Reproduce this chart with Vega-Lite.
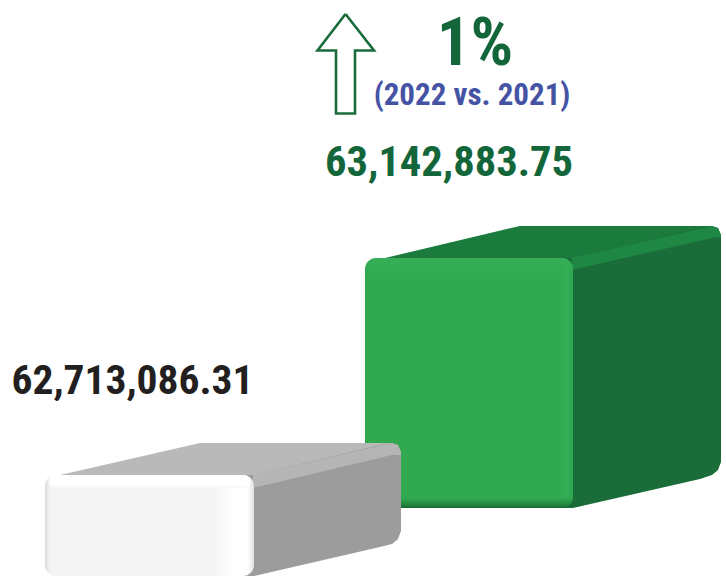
{
"$schema":"https://vega.github.io/schema/vega-lite/v6.json",
"width":726,"height":576,"padding":0,
"autosize":{"type":"fit","contains":"padding"},
"background":"#ffffff",
"config":{"view":{"stroke":null}},
"datasets":{
"fronts":[
{"bar":"2022","value":63142883.75,"left":365,"right":573,"top":258,"bottom":508},
{"bar":"2021","value":62713086.31,"left":45,"right":254,"top":475,"bottom":576}
],
"edges":[
{"bar":"2022","part":"right","left":560,"right":572,"top":266,"bottom":497},
{"bar":"2021","part":"top","left":49,"right":250,"top":475,"bottom":488}
],
"faces":[
{"bar":"2022","face":"green top","u":385,"a":258,"b":258},
{"bar":"2022","face":"green top","u":520,"a":226,"b":258},
{"bar":"2022","face":"green top","u":573,"a":226,"b":258},
{"bar":"2022","face":"green top","u":712,"a":226,"b":230},
{"bar":"2022","face":"green side","u":555,"a":258,"b":508},
{"bar":"2022","face":"green side","u":573,"a":258,"b":508},
{"bar":"2022","face":"green side","u":700,"a":228,"b":479},
{"bar":"2022","face":"green side","u":712,"a":226,"b":475},
{"bar":"2022","face":"green side","u":718,"a":228,"b":470},
{"bar":"2022","face":"green side","u":721,"a":235,"b":462},
{"bar":"2022","face":"green bevel","u":572,"a":258,"b":270},
{"bar":"2022","face":"green bevel","u":712,"a":226,"b":238},
{"bar":"2022","face":"green bevel","u":718,"a":228,"b":237},
{"bar":"2022","face":"green bevel","u":721,"a":235,"b":238},
{"bar":"2021","face":"grey top","u":60,"a":475,"b":475},
{"bar":"2021","face":"grey top","u":200,"a":443,"b":475},
{"bar":"2021","face":"grey top","u":254,"a":443,"b":475},
{"bar":"2021","face":"grey top","u":392,"a":443,"b":446},
{"bar":"2021","face":"grey side","u":235,"a":475,"b":576},
{"bar":"2021","face":"grey side","u":254,"a":475,"b":576},
{"bar":"2021","face":"grey side","u":380,"a":445,"b":547},
{"bar":"2021","face":"grey side","u":392,"a":443,"b":544},
{"bar":"2021","face":"grey side","u":398,"a":445,"b":539},
{"bar":"2021","face":"grey side","u":401,"a":452,"b":531},
{"bar":"2021","face":"grey bevel","u":253,"a":475,"b":488},
{"bar":"2021","face":"grey bevel","u":392,"a":443,"b":455},
{"bar":"2021","face":"grey bevel","u":398,"a":445,"b":455},
{"bar":"2021","face":"grey bevel","u":401,"a":452,"b":455}
],
"arrow":[
{"k":1,"u":345.5,"v":14},{"k":2,"u":374,"v":50.5},{"k":3,"u":355,"v":50.5},{"k":4,"u":355,"v":113.5},
{"k":5,"u":336,"v":113.5},{"k":6,"u":336,"v":50.5},{"k":7,"u":317.5,"v":50.5},{"k":8,"u":345.5,"v":14}
],
"labels":[
{"t":"1%","u":475,"v":65,"role":"pct"},
{"t":"(2022 vs. 2021)","u":472,"v":105,"role":"cmp"},
{"t":"63,142,883.75","u":449,"v":176,"role":"new"},
{"t":"62,713,086.31","u":132.5,"v":394,"role":"old"}
]
},
"encoding":{},
"layer":[
{"data":{"name":"faces"},"transform":[{"filter":"datum.bar==='2022'"}],
 "mark":{"type":"area","orient":"vertical"},
 "encoding":{"x":{"field":"u","type":"quantitative","scale":{"domain":[0,726],"nice":false,"zero":false},"axis":null},
 "y":{"field":"a","type":"quantitative","scale":{"domain":[576,0],"nice":false,"zero":false},"axis":null},"y2":{"field":"b"},
 "detail":{"field":"face"},
 "fill":{"field":"face","type":"nominal","legend":null,"sort":null,"scale":{"domain":["green top","green side","green bevel","grey top","grey side","grey bevel"],"range":["#1b7b3d","#1a6d38","#1e8744","#b8b9b8","#9c9c9c","#b4b5b4"]}}}},
{"data":{"name":"fronts"},"transform":[{"filter":"datum.bar==='2022'"}],
 "mark":{"type":"rect","cornerRadius":11,"color":{"gradient":"linear","x1":0,"y1":0,"x2":0,"y2":1,"stops":[{"offset":0,"color":"#35ae57"},{"offset":0.04,"color":"#33ac54"},{"offset":0.08,"color":"#30a951"},{"offset":0.96,"color":"#30a951"},{"offset":0.985,"color":"#25893f"},{"offset":1,"color":"#166631"}]}},
 "encoding":{"x":{"field":"left","type":"quantitative"},"x2":{"field":"right"},"y":{"field":"top","type":"quantitative"},"y2":{"field":"bottom"}}},
{"data":{"name":"edges"},"transform":[{"filter":"datum.bar==='2022' && datum.part==='right'"}],
 "mark":{"type":"rect","cornerRadius":5,"color":{"gradient":"linear","x1":0,"y1":0,"x2":1,"y2":0,"stops":[{"offset":0,"color":"#30a951"},{"offset":0.6,"color":"#34af57"},{"offset":1,"color":"#2ea550"}]}},
 "encoding":{"x":{"field":"left","type":"quantitative"},"x2":{"field":"right"},"y":{"field":"top","type":"quantitative"},"y2":{"field":"bottom"}}},
{"data":{"name":"faces"},"transform":[{"filter":"datum.bar==='2021'"}],
 "mark":{"type":"area","orient":"vertical"},
 "encoding":{"x":{"field":"u","type":"quantitative"},
 "y":{"field":"a","type":"quantitative"},"y2":{"field":"b"},
 "detail":{"field":"face"},
 "fill":{"field":"face","type":"nominal","legend":null,"sort":null}}},
{"data":{"name":"fronts"},"transform":[{"filter":"datum.bar==='2021'"}],
 "mark":{"type":"rect","cornerRadius":11,"color":{"gradient":"linear","x1":0,"y1":0,"x2":1,"y2":0,"stops":[{"offset":0,"color":"#d9d9d9"},{"offset":0.02,"color":"#f2f2f2"},{"offset":0.04,"color":"#f5f5f5"},{"offset":0.82,"color":"#f5f5f5"},{"offset":0.9,"color":"#ffffff"},{"offset":0.97,"color":"#ffffff"},{"offset":1,"color":"#e2e2e2"}]}},
 "encoding":{"x":{"field":"left","type":"quantitative"},"x2":{"field":"right"},"y":{"field":"top","type":"quantitative"},"y2":{"field":"bottom"}}},
{"data":{"name":"edges"},"transform":[{"filter":"datum.bar==='2021' && datum.part==='top'"}],
 "mark":{"type":"rect","cornerRadius":6,"color":{"gradient":"linear","x1":0,"y1":0,"x2":0,"y2":1,"stops":[{"offset":0,"color":"#ffffff"},{"offset":0.75,"color":"#ffffff"},{"offset":1,"color":"#f6f6f6"}]}},
 "encoding":{"x":{"field":"left","type":"quantitative"},"x2":{"field":"right"},"y":{"field":"top","type":"quantitative"},"y2":{"field":"bottom"}}},
{"data":{"name":"arrow"},
 "mark":{"type":"line","stroke":"#1a6b3c","strokeWidth":2.6,"strokeJoin":"miter"},
 "encoding":{"x":{"field":"u","type":"quantitative"},"y":{"field":"v","type":"quantitative"},"order":{"field":"k","type":"quantitative"}}},
{"data":{"name":"labels"},"transform":[{"filter":"datum.role==='pct'"}],
 "mark":{"type":"text","font":"Roboto Condensed, Liberation Sans, sans-serif","fontWeight":"bold","fontSize":67,"color":"#12663a","align":"center","baseline":"alphabetic"},
 "encoding":{"x":{"field":"u","type":"quantitative"},"y":{"field":"v","type":"quantitative"},"text":{"field":"t"}}},
{"data":{"name":"labels"},"transform":[{"filter":"datum.role==='cmp'"}],
 "mark":{"type":"text","font":"Roboto Condensed, Liberation Sans, sans-serif","fontWeight":"bold","fontSize":31,"color":"#4553a4","align":"center","baseline":"alphabetic"},
 "encoding":{"x":{"field":"u","type":"quantitative"},"y":{"field":"v","type":"quantitative"},"text":{"field":"t"}}},
{"data":{"name":"labels"},"transform":[{"filter":"datum.role==='new'"}],
 "mark":{"type":"text","font":"Roboto Condensed, Liberation Sans, sans-serif","fontWeight":"bold","fontSize":42.5,"color":"#12663a","align":"center","baseline":"alphabetic"},
 "encoding":{"x":{"field":"u","type":"quantitative"},"y":{"field":"v","type":"quantitative"},"text":{"field":"t"}}},
{"data":{"name":"labels"},"transform":[{"filter":"datum.role==='old'"}],
 "mark":{"type":"text","font":"Roboto Condensed, Liberation Sans, sans-serif","fontWeight":"bold","fontSize":41.5,"color":"#231f20","align":"center","baseline":"alphabetic"},
 "encoding":{"x":{"field":"u","type":"quantitative"},"y":{"field":"v","type":"quantitative"},"text":{"field":"t"}}}
]
}
